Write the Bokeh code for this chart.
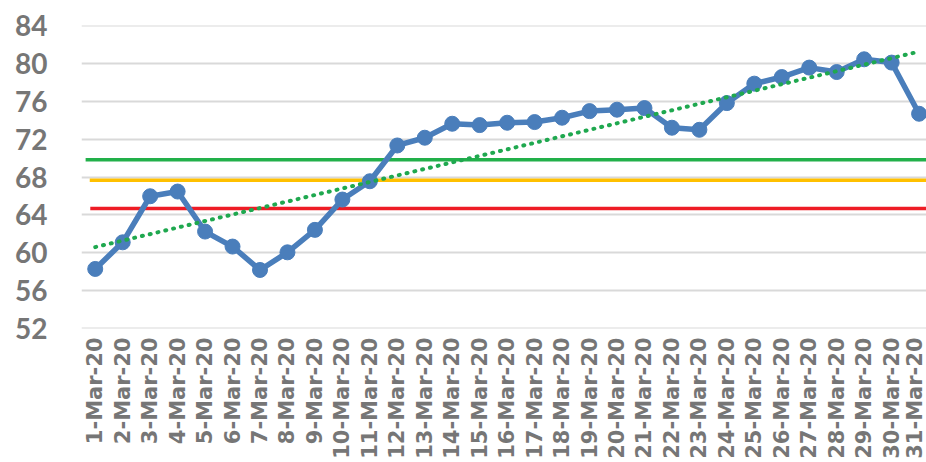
import numpy as np
from bokeh.plotting import figure
from bokeh.models import ColumnDataSource, FixedTicker, Range1d
from bokeh.embed import file_html
from bokeh.resources import INLINE

# ---- data ----
day_labels = [f"{d}-Mar-20" for d in range(1, 32)]
day_index = list(range(1, 32))
values = [58.26, 61.08, 65.96, 66.46, 62.22, 60.63, 58.15, 60.02, 62.4, 65.61,
          67.55, 71.34, 72.16, 73.64, 73.5, 73.75, 73.82, 74.28, 74.98, 75.13,
          75.3, 73.22, 73.0, 75.83, 77.89, 78.59, 79.59, 79.12, 80.47, 80.12, 74.7]
green_level = 69.82
orange_level = 67.66
red_level = 64.66
y_ticks = [52, 56, 60, 64, 68, 72, 76, 80, 84]
y_min, y_max = 52, 84

# ---- figure ----
p = figure(width=926, height=462, output_backend="svg", toolbar_location=None,
           x_range=Range1d(0.5, 31.27), y_range=Range1d(y_min - 0.05, y_max + 0.05),
           min_border_left=81, min_border_right=0, min_border_top=25,
           min_border_bottom=134)
p.outline_line_color = None
p.background_fill_color = "white"
p.border_fill_color = "white"

# grid
p.xgrid.grid_line_color = None
p.ygrid.ticker = FixedTicker(ticks=y_ticks)
p.ygrid.grid_line_color = "#d9d9d9"
p.ygrid.grid_line_width = 2

# y axis
p.yaxis.ticker = FixedTicker(ticks=y_ticks)
p.yaxis.axis_line_color = None
p.yaxis.major_tick_line_color = None
p.yaxis.minor_tick_line_color = None
p.yaxis.major_label_standoff = 28
p.yaxis.major_label_text_font = "Lato"
p.yaxis.major_label_text_font_style = "bold"
p.yaxis.major_label_text_font_size = "28px"
p.yaxis.major_label_text_color = "#767676"

# x axis
p.xaxis.ticker = FixedTicker(ticks=day_index)
p.xaxis.major_label_overrides = {i: lab for i, lab in zip(day_index, day_labels)}
p.xaxis.major_label_orientation = np.pi / 2
p.xaxis.axis_line_color = None
p.xaxis.major_tick_line_color = None
p.xaxis.minor_tick_line_color = None
p.xaxis.major_tick_out = 0
p.xaxis.major_label_standoff = 9
p.xaxis.major_label_text_font = "DejaVu Sans"
p.xaxis.major_label_text_font_style = "bold"
p.xaxis.major_label_text_font_size = "21px"
p.xaxis.major_label_text_color = "#767676"

# reference lines
p.segment(x0=[0.65], y0=[green_level], x1=[32], y1=[green_level],
          line_color="#22b04a", line_width=3.5)
p.segment(x0=[0.8], y0=[orange_level], x1=[32], y1=[orange_level],
          line_color="#ffc000", line_width=3.5)
p.segment(x0=[0.82], y0=[red_level], x1=[32], y1=[red_level],
          line_color="#ee1c25", line_width=3.5)

# main series
src = ColumnDataSource(dict(x=day_index, y=values))
p.line("x", "y", source=src, line_color="#4a7ebb", line_width=5.5, line_join="round")
p.scatter("x", "y", source=src, size=15, fill_color="#4a7ebb", line_color="#4a7ebb")

# linear trend line (least squares over the series)
slope, intercept = np.polyfit(day_index, values, 1)
tx = [day_index[0], day_index[-1]]
ty = [intercept + slope * t for t in tx]
p.line(tx, ty, line_color="#1fa84f", line_width=4, line_dash="1 7", line_cap="round")

open("out.html", "w").write(file_html(p, INLINE))
